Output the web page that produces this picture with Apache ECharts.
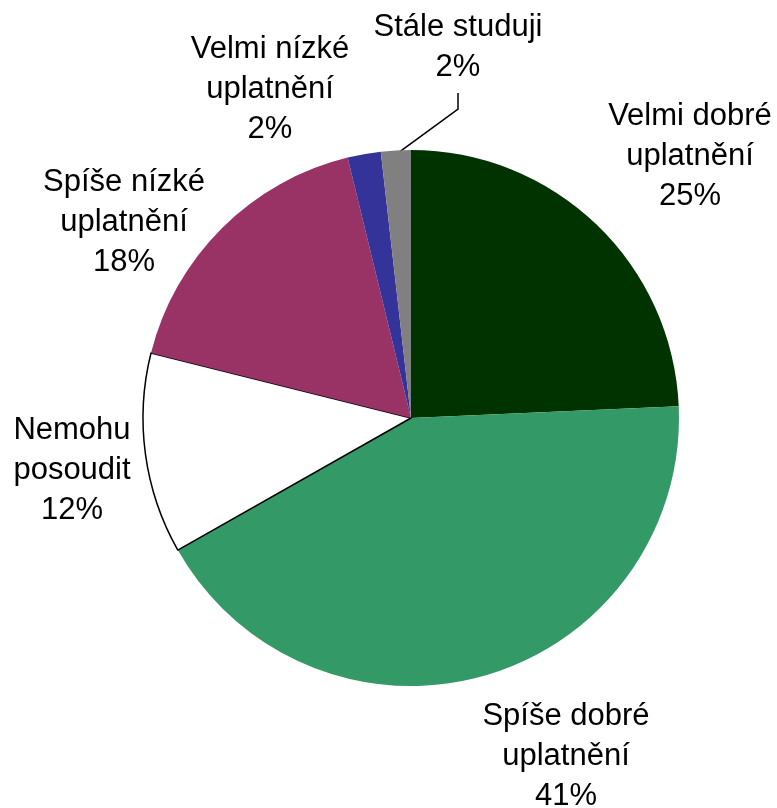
<!DOCTYPE html>
<html>
<head>
<meta charset="utf-8">
<script src="https://cdn.jsdelivr.net/npm/echarts@6/dist/echarts.min.js"></script>
<style>
  html, body { margin: 0; padding: 0; background: #fff; }
  #chart { width: 777px; height: 808px; }
</style>
</head>
<body>
<div id="chart"></div>
<script>
// kategorie (po směru hodin od 12 h)
const names = ['Velmi dobré\nuplatnění', 'Spíše dobré\nuplatnění', 'Nemohu\nposoudit', 'Spíše nízké\nuplatnění', 'Velmi nízké\nuplatnění', 'Stále studuji'];
// hodnoty odečtené z výsečí
const values = [24.3, 42.5, 12.1, 17.3, 2.0, 1.8];
// popisky procent jak jsou v grafu
const pctLabels = ['25%', '41%', '12%', '18%', '2%', '2%'];
const colors = ['#003300', '#339966', '#ffffff', '#993366', '#333399', '#808080'];

// středy popisků
const labelPos = [[690, 156], [566, 756], [72, 470], [124, 222], [270, 89], [458, 47]];

const data = names.map(function (n, i) {
  const item = {
    name: n,
    value: values[i],
    pct: pctLabels[i],
    itemStyle: { color: colors[i] }
  };
  if (i === 2) item.itemStyle.borderColor = '#000';
  if (i === 2) item.itemStyle.borderWidth = 1.5;
  if (i === 5) item.labelLine = { show: true, lineStyle: { color: '#000', width: 1.5 } };
  return item;
});

const chart = echarts.init(document.getElementById('chart'));
chart.setOption({
  animation: false,
  series: [{
    type: 'pie',
    center: [411, 418],
    radius: 268,
    startAngle: 90,
    clockwise: true,
    data: data,
    label: {
      show: true,
      position: 'outside',
      color: '#000',
      fontFamily: 'Liberation Sans, Arial, sans-serif',
      fontSize: 31,
      lineHeight: 40,
      align: 'center',
      overflow: 'none',
      formatter: function (p) { return p.name + '\n' + p.data.pct; }
    },
    labelLine: { show: false, length: 20, length2: 20 },
    labelLayout: function (params) {
      const pos = labelPos[params.dataIndex];
      const res = { x: pos[0], y: pos[1], align: 'center', verticalAlign: 'middle' };
      if (params.dataIndex === 5 && params.labelLinePoints) {
        const start = params.labelLinePoints[0];
        const bottom = pos[1] + params.labelRect.height / 2;
        res.labelLinePoints = [[start[0] + 3, start[1] + 2], [pos[0], bottom + 22], [pos[0], bottom + 6]];
      }
      return res;
    }
  }]
});
</script>
</body>
</html>
